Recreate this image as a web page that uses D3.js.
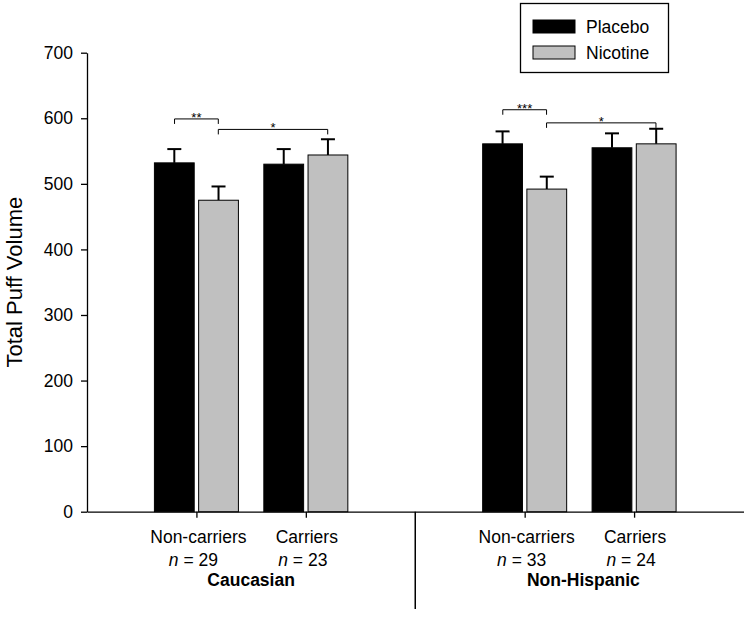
<!DOCTYPE html>
<html>
<head>
<meta charset="utf-8">
<script src="https://cdn.jsdelivr.net/npm/d3@7"></script>
<style>
  body { margin: 0; background: #fff; }
  text { font-family: Arial, "Liberation Sans", sans-serif; }
</style>
</head>
<body>
<svg id="chart" width="750" height="617"></svg>
<script>
// ---- data ----
const categories = ["Non-carriers", "Carriers", "Non-carriers", "Carriers"];
const nLabels = ["29", "23", "33", "24"];
const positions = [0, 1, 3, 4];          // slot index on the x axis
const groups = ["Caucasian", "Non-Hispanic"];
const groupCenters = [0.5, 3.5];
const dividerAt = 2;
const seriesNames = ["Placebo", "Nicotine"];
const placeboValues = [532, 530, 561, 555];
const nicotineValues = [475, 544, 492, 561];
const placeboErr = [21, 23, 19, 22];
const nicotineErr = [21, 24, 19, 23];
const yTicks = [0, 100, 200, 300, 400, 500, 600, 700];
// significance brackets
const bracketFrom = [-0.2, 0.2, 2.8, 3.2];
const bracketTo = [0.2, 1.2, 3.2, 4.2];
const bracketLevel = [599, 583, 613, 593];
const bracketLabel = ["**", "*", "***", "*"];

const colors = { Placebo: "#000000", Nicotine: "#c0c0c0" };

const svg = d3.select("#chart");
const plotLeft = 87, plotTop = 52.7, plotBottom = 511.7;

const x = d3.scaleLinear().domain([-1, 5]).range([plotLeft, 743.5]);
const inner = d3.scaleBand().domain(seriesNames).range([-42, 42]).paddingInner(0.1);
const y = d3.scaleLinear().domain([0, 700]).range([plotBottom, plotTop]);

// y axis
const yAxis = d3.axisLeft(y).tickValues(yTicks).tickSize(6).tickSizeOuter(0).tickPadding(8);
const gy = svg.append("g").attr("transform", `translate(${plotLeft},0)`).call(yAxis);
gy.select(".domain").attr("stroke", "#000").attr("stroke-width", 1.3);
gy.selectAll(".tick line").attr("stroke", "#000").attr("stroke-width", 1.3);
gy.selectAll(".tick text").attr("font-size", 17.5).attr("fill", "#000")
  .attr("font-family", "Arial, 'Liberation Sans', sans-serif");

// x axis
const xAxis = d3.axisBottom(x).tickValues(positions).tickSize(6).tickSizeOuter(0).tickFormat("");
const gx = svg.append("g").attr("transform", `translate(0,${plotBottom})`).call(xAxis);
gx.select(".domain").attr("stroke", "#000").attr("stroke-width", 1.3);
gx.selectAll(".tick line").attr("stroke", "#000").attr("stroke-width", 1.3);

// divider
svg.append("line")
  .attr("x1", x(dividerAt)).attr("x2", x(dividerAt))
  .attr("y1", plotBottom).attr("y2", 609)
  .attr("stroke", "#000").attr("stroke-width", 1.5);

// bars
const rows = positions.map((p, i) => ({
  p,
  vals: [
    { s: "Placebo", v: placeboValues[i], e: placeboErr[i] },
    { s: "Nicotine", v: nicotineValues[i], e: nicotineErr[i] }
  ]
}));

const gBars = svg.append("g");
rows.forEach(r => {
  r.vals.forEach(d => {
    const bx = x(r.p) + inner(d.s);
    const cx = bx + inner.bandwidth() / 2;
    gBars.append("line")
      .attr("x1", cx).attr("x2", cx)
      .attr("y1", y(d.v)).attr("y2", y(d.v + d.e))
      .attr("stroke", "#000").attr("stroke-width", 2);
    gBars.append("line")
      .attr("x1", cx - 7).attr("x2", cx + 7)
      .attr("y1", y(d.v + d.e)).attr("y2", y(d.v + d.e))
      .attr("stroke", "#000").attr("stroke-width", 2);
    gBars.append("rect")
      .attr("x", bx).attr("y", y(d.v))
      .attr("width", inner.bandwidth()).attr("height", y(0) - y(d.v))
      .attr("fill", colors[d.s]).attr("stroke", "#000").attr("stroke-width", 1);
  });
});

// significance brackets
bracketLabel.forEach((lab, i) => {
  const x1 = x(bracketFrom[i]), x2 = x(bracketTo[i]), yy = y(bracketLevel[i]);
  svg.append("path")
    .attr("d", `M${x1},${yy + 5}V${yy}H${x2}V${yy + 5}`)
    .attr("fill", "none").attr("stroke", "#000").attr("stroke-width", 1);
  svg.append("text")
    .attr("x", (x1 + x2) / 2).attr("y", yy + 3)
    .attr("text-anchor", "middle").attr("font-size", 13)
    .text(lab);
});

// category labels
categories.forEach((c, i) => {
  const cx = x(positions[i]) + (c === "Non-carriers" ? 2 : 1);
  svg.append("text").attr("x", cx).attr("y", 543)
    .attr("text-anchor", "middle").attr("font-size", 17.5).text(c);
  const t = svg.append("text").attr("x", x(positions[i]) - 3).attr("y", 566)
    .attr("text-anchor", "middle").attr("font-size", 17.5);
  t.append("tspan").attr("font-style", "italic").text("n");
  t.append("tspan").text(" = " + nLabels[i]);
});
groups.forEach((g, i) => {
  svg.append("text").attr("x", x(groupCenters[i]) + (i === 1 ? 4 : 0)).attr("y", 586)
    .attr("text-anchor", "middle").attr("font-size", 17.5).attr("font-weight", "bold").text(g);
});

// y-axis title
svg.append("text")
  .attr("transform", `translate(22,${(plotTop + plotBottom) / 2}) rotate(-90)`)
  .attr("text-anchor", "middle").attr("font-size", 22)
  .text("Total Puff Volume");

// legend
const lg = svg.append("g");
lg.append("rect").attr("x", 520.5).attr("y", 3.5).attr("width", 148).attr("height", 69)
  .attr("fill", "#fff").attr("stroke", "#000").attr("stroke-width", 1.3);
seriesNames.forEach((s, i) => {
  lg.append("rect").attr("x", 533).attr("y", 20 + i * 26).attr("width", 42).attr("height", 13)
    .attr("fill", colors[s]).attr("stroke", "#000").attr("stroke-width", 1);
  lg.append("text").attr("x", 586).attr("y", 33 + i * 26).attr("font-size", 17.5).text(s);
});
</script>
</body>
</html>
